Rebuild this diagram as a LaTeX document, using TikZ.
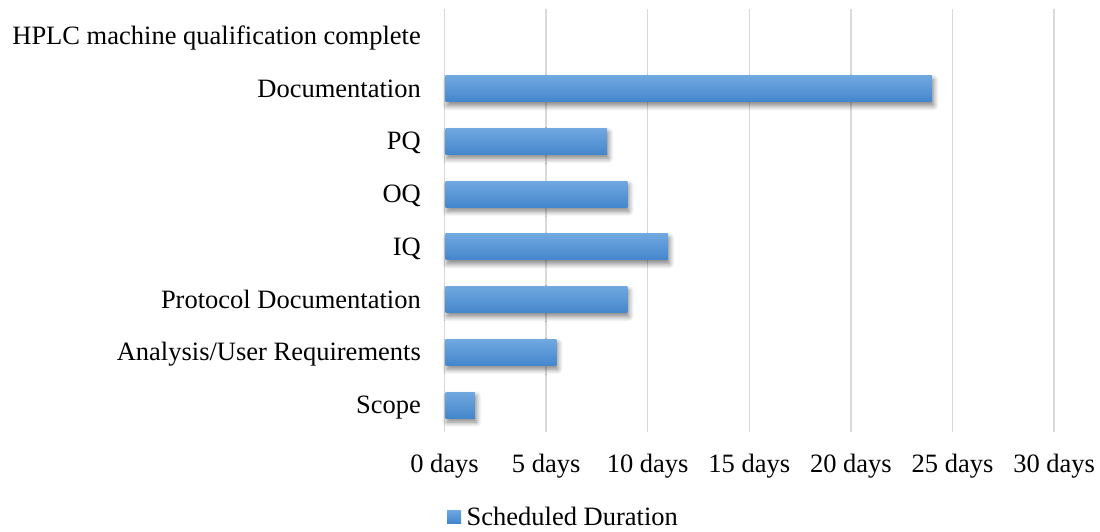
\documentclass[tikz,border=0pt]{standalone}
\usepackage{fontspec}
\setmainfont{Liberation Serif}
\usetikzlibrary{shadows.blur}
\definecolor{barTop}{RGB}{112,168,224}
\definecolor{barBot}{RGB}{68,134,204}
\definecolor{gridGray}{RGB}{217,217,217}
\begin{document}
\begin{tikzpicture}[x=1pt,y=1pt,
  font=\fontsize{26.5}{30}\selectfont,
  gridline/.style={draw=gridGray,line width=1.5pt},
  catlabel/.style={anchor=base east,inner sep=0pt},
  ticklabel/.style={anchor=base,inner sep=0pt},
  barfill/.style={top color=barTop,bottom color=barBot,
    blur shadow={shadow xshift=1.5pt,shadow yshift=-4pt,shadow blur radius=5pt,shadow blur steps=8,shadow opacity=50}},
]
\useasboundingbox (0,0) rectangle (1100,531);

% vertical grid lines and day labels (20.32 pt per day, origin at 444.5)
\foreach \d [count=\i] in {0,5,...,30}{
  \draw[gridline] (444.5+20.32*\d,99.5) -- (444.5+20.32*\d,522);
  \node[ticklabel] (tick\i) at (444.5+20.32*\d,59) {\d\ days};
}

% categories, bottom to top, with scheduled durations in days
\foreach \name/\v [count=\k from 0] in {
  {Scope}/1.5,
  {Analysis/User Requirements}/5.5,
  {Protocol Documentation}/9,
  {IQ}/11,
  {OQ}/9,
  {PQ}/8,
  {Documentation}/24,
  {HPLC machine qualification complete}/0}{
  \pgfmathsetmacro{\yc}{126+52.7*\k}
  \node[catlabel] (cat\k) at (421,\yc-8.5) {\name};
  \ifdim \v pt>0pt
    \path[barfill] (445.5,\yc-13) rectangle (444.5+20.32*\v,\yc+13);
  \fi
}

% legend
\path[top color=barTop,bottom color=barBot] (447,8) rectangle (461,21);
\node[anchor=base west,inner sep=0pt] (legend) at (466.5,6) {Scheduled Duration};
\end{tikzpicture}
\end{document}
